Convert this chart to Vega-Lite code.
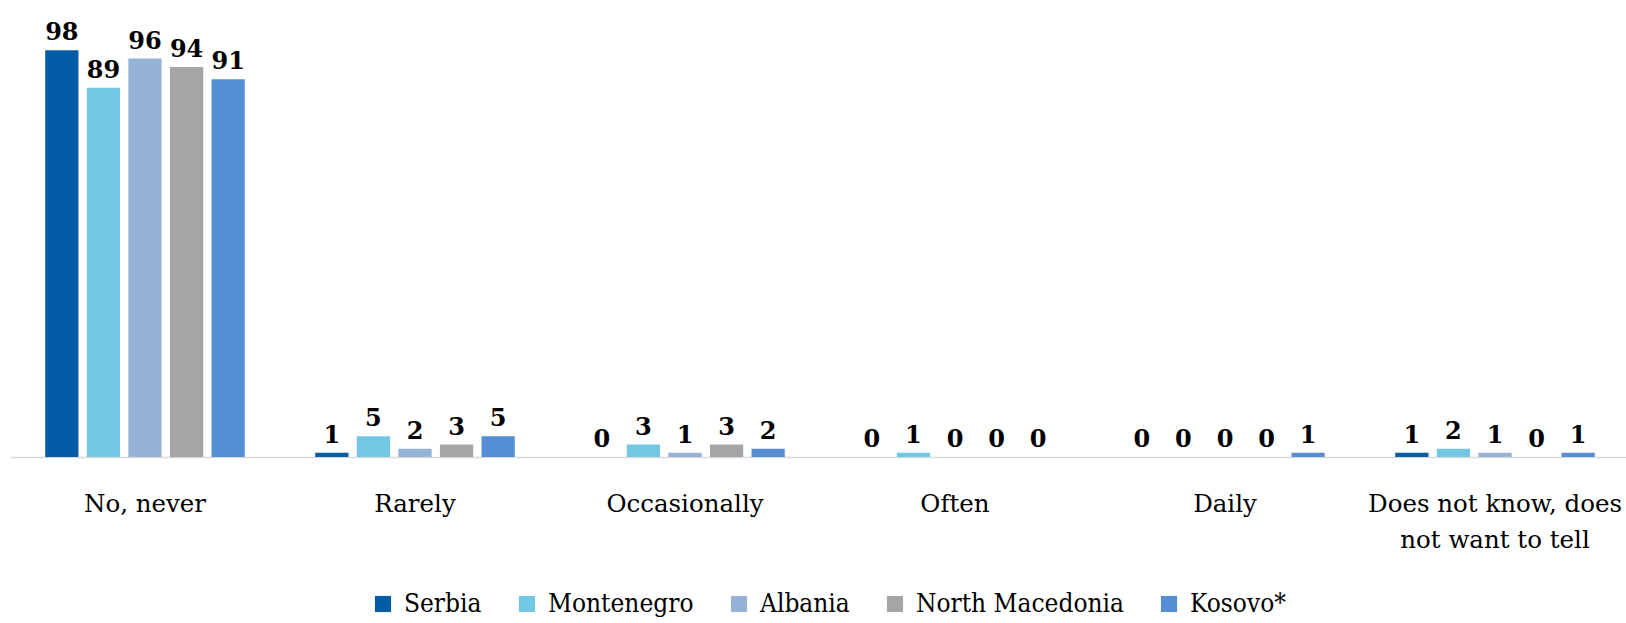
{
  "$schema": "https://vega.github.io/schema/vega-lite/v6.json",
  "width": 1620,
  "height": 415,
  "autosize": "none",
  "padding": {"left": 10, "top": 42, "right": 0, "bottom": 166},
  "background": "white",
  "config": {"view": {"stroke": null}, "font": "DejaVu Serif"},
  "data": {"values": [
    {"cat": "No, never", "country": "Serbia", "v": 98},
    {"cat": "No, never", "country": "Montenegro", "v": 89},
    {"cat": "No, never", "country": "Albania", "v": 96},
    {"cat": "No, never", "country": "North Macedonia", "v": 94},
    {"cat": "No, never", "country": "Kosovo*", "v": 91},
    {"cat": "Rarely", "country": "Serbia", "v": 1},
    {"cat": "Rarely", "country": "Montenegro", "v": 5},
    {"cat": "Rarely", "country": "Albania", "v": 2},
    {"cat": "Rarely", "country": "North Macedonia", "v": 3},
    {"cat": "Rarely", "country": "Kosovo*", "v": 5},
    {"cat": "Occasionally", "country": "Serbia", "v": 0},
    {"cat": "Occasionally", "country": "Montenegro", "v": 3},
    {"cat": "Occasionally", "country": "Albania", "v": 1},
    {"cat": "Occasionally", "country": "North Macedonia", "v": 3},
    {"cat": "Occasionally", "country": "Kosovo*", "v": 2},
    {"cat": "Often", "country": "Serbia", "v": 0},
    {"cat": "Often", "country": "Montenegro", "v": 1},
    {"cat": "Often", "country": "Albania", "v": 0},
    {"cat": "Often", "country": "North Macedonia", "v": 0},
    {"cat": "Often", "country": "Kosovo*", "v": 0},
    {"cat": "Daily", "country": "Serbia", "v": 0},
    {"cat": "Daily", "country": "Montenegro", "v": 0},
    {"cat": "Daily", "country": "Albania", "v": 0},
    {"cat": "Daily", "country": "North Macedonia", "v": 0},
    {"cat": "Daily", "country": "Kosovo*", "v": 1},
    {"cat": "Does not know, does not want to tell", "country": "Serbia", "v": 1},
    {"cat": "Does not know, does not want to tell", "country": "Montenegro", "v": 2},
    {"cat": "Does not know, does not want to tell", "country": "Albania", "v": 1},
    {"cat": "Does not know, does not want to tell", "country": "North Macedonia", "v": 0},
    {"cat": "Does not know, does not want to tell", "country": "Kosovo*", "v": 1}
  ]},
  "encoding": {
    "x": {
      "field": "cat", "type": "nominal", "sort": null, "title": null,
      "scale": {"paddingInner": 0.23, "paddingOuter": 0.115},
      "axis": {
        "labelAngle": 0, "labelFontSize": 24.5, "labelColor": "#000000", "labelPadding": 47,
        "labelFont": "DejaVu Serif", "labelBaseline": "middle",
        "ticks": false, "domainColor": "#d9d9d9", "domainWidth": 1.5,
        "labelLimit": 400, "labelLineHeight": 36,
        "labelExpr": "datum.label == 'Does not know, does not want to tell' ? ['Does not know, does', 'not want to tell'] : datum.label"
      }
    },
    "xOffset": {
      "field": "country", "type": "nominal", "sort": ["Serbia", "Montenegro", "Albania", "North Macedonia", "Kosovo*"],
      "scale": {"paddingInner": 0.2, "paddingOuter": 0.1}
    },
    "y": {"field": "v", "type": "quantitative", "scale": {"domain": [0, 100]}, "axis": null}
  },
  "layer": [
    {
      "mark": {"type": "bar"},
      "encoding": {
        "color": {
          "field": "country", "type": "nominal", "title": null,
          "sort": ["Serbia", "Montenegro", "Albania", "North Macedonia", "Kosovo*"],
          "scale": {"domain": ["Serbia", "Montenegro", "Albania", "North Macedonia", "Kosovo*"],
                    "range": ["#045BA6", "#72C8E3", "#95B3D7", "#A5A5A5", "#558ED5"]},
          "legend": {
            "orient": "none", "legendX": 360, "legendY": 549, "direction": "horizontal", "symbolType": "square",
            "symbolSize": 260, "symbolStrokeWidth": 0, "labelFontSize": 26, "labelFont": "DejaVu Serif Condensed",
            "labelColor": "#000000", "columnPadding": 32, "labelOffset": 8, "labelLimit": 400
          }
        }
      }
    },
    {
      "mark": {"type": "text", "baseline": "bottom", "dy": -5, "fontSize": 24, "fontWeight": "bold", "font": "DejaVu Serif", "color": "#000000"},
      "encoding": {"text": {"field": "v", "type": "quantitative"}}
    }
  ]
}
